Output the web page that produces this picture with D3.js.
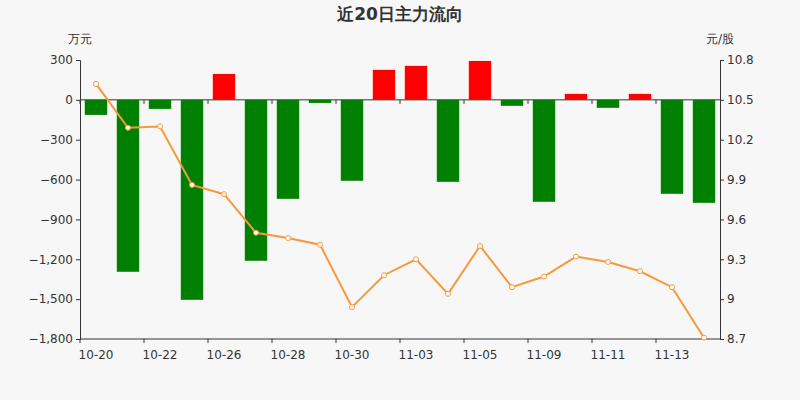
<!DOCTYPE html>
<html><head><meta charset="utf-8">
<script src="https://cdn.jsdelivr.net/npm/d3@7"></script>
<style>body{margin:0;background:#f7f7f7;}text{font-family:"DejaVu Sans",sans-serif;}</style>
</head><body>
<script>
var dates = ["10-20","10-21","10-22","10-23","10-26","10-27","10-28","10-29","10-30","11-02","11-03","11-04","11-05","11-06","11-09","11-10","11-11","11-12","11-13","11-16"];
var flows = [-113,-1294,-68,-1505,195,-1211,-745,-23,-609,226,256,-617,293,-45,-767,45,-60,45,-707,-775];
var prices = [10.62,10.29,10.30,9.86,9.79,9.50,9.46,9.41,8.94,9.18,9.30,9.04,9.40,9.09,9.17,9.32,9.28,9.21,9.09,8.71];
var leftTicks = [300,0,-300,-600,-900,-1200,-1500,-1800];
var rightTicks = [10.8,10.5,10.2,9.9,9.6,9.3,9,8.7];
var tickDates = ["10-20","10-22","10-26","10-28","10-30","11-03","11-05","11-09","11-11","11-13"];

var svg = d3.select("body").append("svg").attr("width",800).attr("height",400);
svg.append("rect").attr("width",800).attr("height",400).attr("fill","#f7f7f7");

var x = d3.scaleBand().domain(dates).range([80,720]).paddingInner(0.3).paddingOuter(0.15);
var y = d3.scaleLinear().domain([-1800,300]).range([339,60]);
var y2 = d3.scaleLinear().domain([8.7,10.8]).range([339,60]);

svg.append("text").attr("x",400).attr("y",20).attr("text-anchor","middle")
	.attr("font-size",17).attr("font-weight","bold").attr("fill","#333").text("近20日主力流向");
svg.append("text").attr("x",80).attr("y",43).attr("text-anchor","middle").attr("font-size",12).attr("fill","#333").text("万元");
svg.append("text").attr("x",720).attr("y",43).attr("text-anchor","middle").attr("font-size",12).attr("fill","#333").text("元/股");

var gl = svg.append("g").attr("transform","translate(80,0)")
	.call(d3.axisLeft(y).tickValues(leftTicks).tickSize(4).tickFormat(d3.format(",")));
var gr = svg.append("g").attr("transform","translate(720,0)")
	.call(d3.axisRight(y2).tickValues(rightTicks).tickSize(4).tickFormat(function(d){return String(d);}));
[gl,gr].forEach(function(g){
	g.selectAll("path,line").attr("stroke","#333");
	g.selectAll("text").attr("font-size",12).attr("fill","#333");
});

// zero line with ticks
var gx = svg.append("g").attr("transform","translate(0,"+y(0)+")");
gx.append("line").attr("x1",80).attr("x2",720).attr("stroke","#333");
var gb = svg.append("g").attr("transform","translate(0,339)");
gb.append("line").attr("x1",80).attr("x2",720).attr("stroke","#333");
var step = 32;
tickDates.forEach(function(d){
	var cx = x(d)+x.bandwidth()/2;
	gb.append("text").attr("x",cx).attr("y",20).attr("text-anchor","middle").attr("font-size",12).attr("fill","#333").text(d);
});
tickDates.forEach(function(d){
	var lx = dates.indexOf(d)*step+80;
	gx.append("line").attr("x1",lx).attr("x2",lx).attr("y1",0).attr("y2",4).attr("stroke","#333");
	gb.append("line").attr("x1",lx).attr("x2",lx).attr("y1",0).attr("y2",4).attr("stroke","#333");
});

svg.selectAll(".bar").data(flows).enter().append("rect")
	.attr("x",function(d,i){return x(dates[i]);})
	.attr("width",x.bandwidth())
	.attr("y",function(d){return y(Math.max(0,d));})
	.attr("height",function(d){return Math.abs(y(d)-y(0));})
	.attr("fill",function(d){return d>=0?"#ff0000":"#008000";});

var line = d3.line().x(function(d,i){return x(dates[i])+x.bandwidth()/2;}).y(function(d){return y2(d);});
svg.append("path").attr("d",line(prices)).attr("fill","none").attr("stroke","#f7993b").attr("stroke-width",2);
svg.selectAll(".pt").data(prices).enter().append("circle")
	.attr("cx",function(d,i){return x(dates[i])+x.bandwidth()/2;})
	.attr("cy",function(d){return y2(d);})
	.attr("r",2.5).attr("fill","#fff").attr("stroke","#f7993b");
</script>
</body></html>
